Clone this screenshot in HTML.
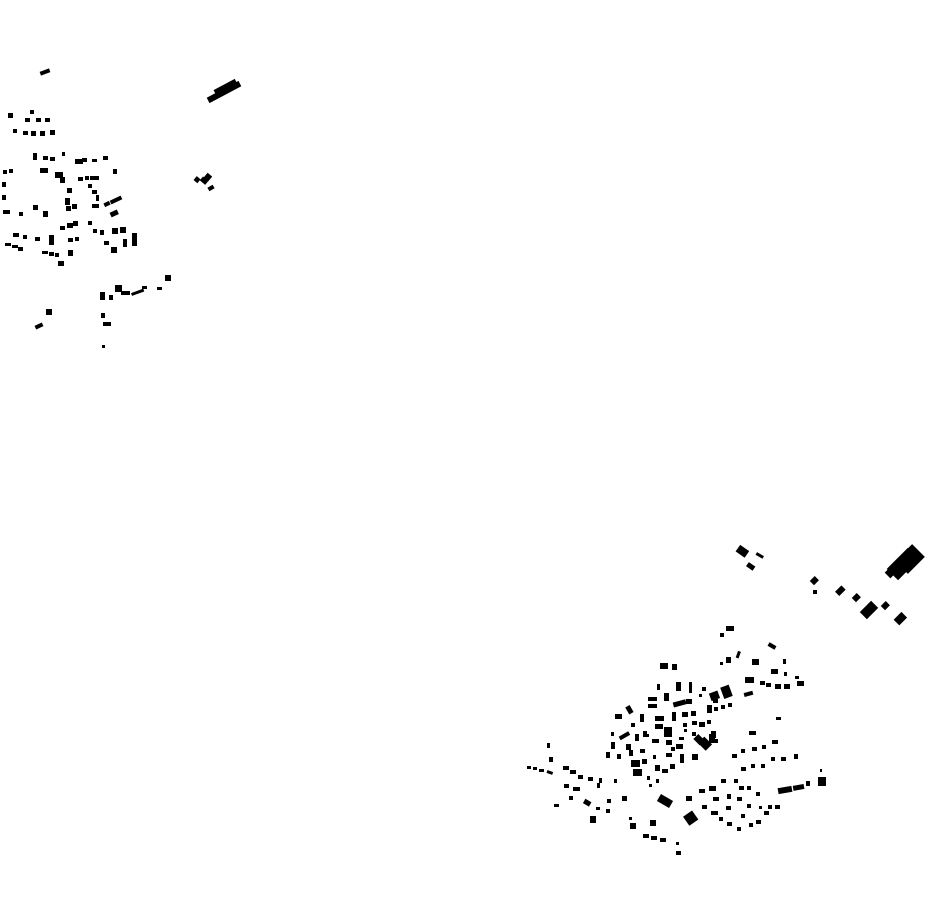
<!DOCTYPE html>
<html><head><meta charset="utf-8"><style>html,body{margin:0;padding:0;background:#fff}svg{display:block}</style></head>
<body>
<svg width="930" height="924" viewBox="0 0 930 924" xmlns="http://www.w3.org/2000/svg">
<rect width="930" height="924" fill="#fff"/>
<g fill="#000">
<!-- top-left cluster -->
<rect x="40" y="70" width="10" height="4" transform="rotate(-20 45 72)"/>
<rect x="206" y="89" width="36" height="6" transform="rotate(-28 224 92)"/>
<rect x="214" y="84" width="24" height="8" transform="rotate(-28 226 88)"/>
<rect x="8" y="113" width="5" height="5"/><rect x="30" y="110" width="4" height="4"/>
<rect x="25" y="118" width="5" height="4"/><rect x="36" y="118" width="5" height="4"/><rect x="45" y="118" width="5" height="4"/>
<rect x="13" y="129" width="4" height="4"/><rect x="23" y="131" width="5" height="4"/><rect x="31" y="131" width="5" height="5"/><rect x="40" y="131" width="5" height="5"/><rect x="50" y="130" width="5" height="5"/>
<rect x="33" y="153" width="4" height="7"/><rect x="43" y="156" width="5" height="4"/><rect x="50" y="157" width="5" height="4"/><rect x="62" y="152" width="3" height="4"/>
<rect x="75" y="159" width="8" height="5"/><rect x="82" y="158" width="5" height="4"/><rect x="92" y="159" width="5" height="3"/><rect x="103" y="156" width="5" height="4"/>
<rect x="3" y="170" width="4" height="4"/><rect x="9" y="169" width="4" height="4"/>
<rect x="40" y="168" width="8" height="5"/><rect x="55" y="172" width="8" height="6"/><rect x="60" y="177" width="5" height="6"/>
<rect x="78" y="177" width="5" height="4"/><rect x="85" y="176" width="4" height="4"/><rect x="90" y="176" width="9" height="4"/><rect x="113" y="169" width="4" height="5"/>
<rect x="2" y="182" width="4" height="5"/><rect x="2" y="195" width="4" height="5"/>
<rect x="67" y="188" width="5" height="5"/><rect x="65" y="198" width="5" height="7"/>
<rect x="88" y="184" width="4" height="4"/><rect x="92" y="190" width="5" height="4"/><rect x="96" y="195" width="3" height="6"/>
<rect x="110" y="198" width="12" height="4" transform="rotate(-25 116 200)"/><rect x="104" y="202" width="6" height="4" transform="rotate(-25 107 204)"/>
<rect x="33" y="205" width="5" height="5"/><rect x="43" y="211" width="5" height="6"/><rect x="3" y="210" width="7" height="4"/><rect x="19" y="212" width="4" height="4"/>
<rect x="66" y="206" width="5" height="5"/><rect x="72" y="204" width="5" height="5"/>
<rect x="92" y="204" width="7" height="4"/><rect x="110" y="211" width="8" height="5" transform="rotate(-25 114 213)"/>
<rect x="88" y="221" width="4" height="4"/>
<rect x="60" y="226" width="5" height="4"/><rect x="67" y="223" width="6" height="5"/><rect x="73" y="221" width="5" height="5"/>
<rect x="93" y="229" width="4" height="4"/><rect x="100" y="230" width="4" height="5"/><rect x="112" y="228" width="6" height="6"/><rect x="120" y="227" width="6" height="6"/>
<rect x="132" y="233" width="5" height="13"/><rect x="123" y="239" width="4" height="8"/>
<rect x="13" y="233" width="6" height="4"/><rect x="23" y="235" width="4" height="4"/><rect x="35" y="237" width="5" height="4"/><rect x="49" y="235" width="5" height="10"/>
<rect x="68" y="238" width="5" height="4"/><rect x="75" y="237" width="4" height="4"/>
<rect x="5" y="243" width="6" height="3"/><rect x="12" y="245" width="6" height="3"/><rect x="18" y="247" width="5" height="4"/>
<rect x="42" y="251" width="6" height="3"/><rect x="49" y="252" width="5" height="4"/><rect x="55" y="253" width="4" height="4"/>
<rect x="68" y="250" width="5" height="6"/><rect x="58" y="261" width="6" height="5"/>
<rect x="104" y="241" width="5" height="4"/><rect x="111" y="247" width="6" height="6"/>
<rect x="100" y="292" width="5" height="8"/><rect x="109" y="295" width="4" height="5"/>
<rect x="115" y="285" width="7" height="7"/><rect x="121" y="291" width="9" height="4"/><rect x="131" y="291" width="13" height="3" transform="rotate(-20 137 292)"/>
<rect x="142" y="286" width="5" height="3"/><rect x="157" y="287" width="5" height="3"/><rect x="165" y="275" width="6" height="6"/>
<rect x="46" y="309" width="6" height="6"/><rect x="35" y="324" width="8" height="4" transform="rotate(-25 39 326)"/>
<rect x="101" y="313" width="4" height="5"/><rect x="103" y="322" width="8" height="4"/><rect x="102" y="345" width="3" height="3"/>
<rect x="195" y="177" width="5" height="5" transform="rotate(40 197 179)"/><rect x="201" y="178" width="7" height="5" transform="rotate(40 204 180)"/><rect x="205" y="174" width="6" height="6" transform="rotate(40 208 177)"/><rect x="208" y="186" width="6" height="4" transform="rotate(-30 211 188)"/>
<!-- bottom-right cluster -->
<rect x="737" y="547" width="11" height="8" transform="rotate(35 742 551)"/><rect x="756" y="554" width="8" height="3" transform="rotate(30 760 555)"/><rect x="747" y="564" width="8" height="5" transform="rotate(35 751 566)"/>
<rect x="888" y="556" width="30" height="16" transform="rotate(-45 903 564)"/><rect x="898" y="550" width="24" height="18" transform="rotate(-45 910 559)"/><rect x="884" y="563" width="24" height="8" transform="rotate(-45 896 567)"/>
<rect x="811" y="578" width="7" height="6" transform="rotate(-45 814 581)"/><rect x="813" y="590" width="4" height="4"/>
<rect x="836" y="588" width="9" height="6" transform="rotate(-45 840 591)"/><rect x="853" y="595" width="7" height="6" transform="rotate(-45 856 598)"/>
<rect x="861" y="605" width="16" height="10" transform="rotate(-45 869 610)"/><rect x="882" y="603" width="7" height="6" transform="rotate(-45 885 606)"/>
<rect x="895" y="615" width="11" height="8" transform="rotate(-45 900 619)"/>
<rect x="726" y="626" width="8" height="5"/><rect x="720" y="633" width="4" height="4"/>
<rect x="737" y="651" width="3" height="7" transform="rotate(20 738 654)"/><rect x="726" y="657" width="5" height="6"/><rect x="720" y="662" width="3" height="3"/>
<rect x="752" y="659" width="7" height="6"/><rect x="768" y="644" width="8" height="4" transform="rotate(30 772 646)"/><rect x="783" y="659" width="3" height="5"/>
<rect x="771" y="669" width="7" height="5"/><rect x="784" y="672" width="3" height="4"/><rect x="795" y="676" width="4" height="3"/><rect x="797" y="681" width="7" height="5"/>
<rect x="775" y="684" width="6" height="5"/><rect x="784" y="684" width="6" height="5"/><rect x="766" y="683" width="5" height="4"/>
<rect x="745" y="677" width="9" height="6"/><rect x="760" y="681" width="5" height="4"/><rect x="744" y="692" width="9" height="4" transform="rotate(-15 748 694)"/>
<rect x="660" y="663" width="8" height="6"/><rect x="672" y="664" width="5" height="6"/>
<rect x="657" y="684" width="3" height="6"/><rect x="676" y="682" width="5" height="9"/><rect x="689" y="682" width="3" height="11"/>
<rect x="702" y="687" width="4" height="4"/><rect x="699" y="694" width="3" height="3"/>
<rect x="710" y="692" width="9" height="8" transform="rotate(-20 714 696)"/><rect x="722" y="686" width="9" height="12" transform="rotate(-20 726 692)"/><rect x="713" y="699" width="5" height="4"/>
<rect x="648" y="697" width="9" height="4"/><rect x="648" y="704" width="9" height="4"/><rect x="664" y="693" width="5" height="8"/>
<rect x="673" y="701" width="13" height="5" transform="rotate(-15 679 703)"/><rect x="686" y="699" width="6" height="5"/>
<rect x="707" y="705" width="5" height="8"/><rect x="714" y="707" width="4" height="4"/><rect x="721" y="705" width="4" height="4"/><rect x="728" y="703" width="4" height="4"/>
<rect x="615" y="714" width="7" height="5"/><rect x="627" y="706" width="5" height="8" transform="rotate(-30 629 710)"/><rect x="640" y="714" width="4" height="8"/>
<rect x="655" y="716" width="9" height="5"/><rect x="672" y="712" width="4" height="9"/><rect x="682" y="712" width="6" height="5"/><rect x="691" y="711" width="5" height="5"/>
<rect x="619" y="734" width="11" height="4" transform="rotate(-30 624 736)"/><rect x="631" y="723" width="4" height="4"/><rect x="611" y="732" width="3" height="4"/>
<rect x="643" y="731" width="4" height="6"/><rect x="655" y="724" width="8" height="5"/><rect x="664" y="727" width="8" height="10"/><rect x="683" y="723" width="4" height="4"/><rect x="692" y="721" width="5" height="4"/><rect x="699" y="722" width="6" height="5"/><rect x="707" y="720" width="4" height="4"/>
<rect x="684" y="729" width="3" height="3"/><rect x="692" y="732" width="4" height="4"/><rect x="711" y="731" width="5" height="7"/>
<rect x="611" y="742" width="4" height="7"/><rect x="626" y="744" width="5" height="6"/><rect x="635" y="734" width="4" height="7"/><rect x="646" y="734" width="3" height="3"/><rect x="652" y="739" width="7" height="4"/>
<rect x="666" y="740" width="6" height="5"/><rect x="676" y="744" width="7" height="5"/><rect x="679" y="737" width="5" height="3"/>
<rect x="695" y="736" width="9" height="7" transform="rotate(45 699 739)"/><rect x="700" y="739" width="11" height="9" transform="rotate(45 705 743)"/><rect x="709" y="734" width="6" height="9"/><rect x="714" y="739" width="4" height="4"/>
<rect x="606" y="752" width="4" height="6"/><rect x="617" y="754" width="4" height="5"/><rect x="629" y="750" width="4" height="6"/>
<rect x="640" y="749" width="5" height="4"/><rect x="653" y="755" width="3" height="4"/><rect x="666" y="753" width="6" height="4"/><rect x="671" y="747" width="4" height="4"/><rect x="680" y="754" width="4" height="9"/><rect x="692" y="754" width="6" height="6"/>
<rect x="631" y="760" width="9" height="7"/><rect x="642" y="759" width="5" height="5"/><rect x="655" y="765" width="5" height="6"/><rect x="662" y="769" width="6" height="4"/><rect x="670" y="764" width="5" height="5"/>
<rect x="633" y="769" width="9" height="7"/><rect x="647" y="776" width="3" height="4"/><rect x="656" y="779" width="3" height="4"/><rect x="649" y="784" width="3" height="3"/>
<rect x="732" y="754" width="5" height="4"/><rect x="741" y="749" width="4" height="4"/><rect x="752" y="747" width="5" height="4"/><rect x="762" y="745" width="4" height="4"/><rect x="772" y="740" width="6" height="4"/>
<rect x="749" y="731" width="7" height="4"/><rect x="776" y="717" width="5" height="3"/>
<rect x="741" y="767" width="5" height="4"/><rect x="751" y="764" width="4" height="4"/><rect x="761" y="764" width="4" height="4"/><rect x="771" y="757" width="4" height="4"/><rect x="781" y="757" width="5" height="4"/><rect x="794" y="754" width="4" height="5"/>
<rect x="547" y="743" width="3" height="5"/><rect x="549" y="757" width="4" height="5"/>
<rect x="527" y="766" width="4" height="3"/><rect x="533" y="767" width="4" height="3"/><rect x="539" y="769" width="5" height="3"/><rect x="547" y="771" width="6" height="3" transform="rotate(20 550 772)"/>
<rect x="563" y="766" width="6" height="4"/><rect x="570" y="770" width="6" height="4"/><rect x="578" y="775" width="5" height="4"/><rect x="588" y="777" width="5" height="4"/>
<rect x="599" y="778" width="3" height="5"/><rect x="597" y="783" width="3" height="5"/><rect x="614" y="779" width="3" height="4"/>
<rect x="564" y="784" width="5" height="4"/><rect x="573" y="787" width="7" height="4"/><rect x="569" y="796" width="4" height="4"/><rect x="554" y="804" width="5" height="3"/>
<rect x="584" y="800" width="7" height="5" transform="rotate(30 587 802)"/><rect x="590" y="816" width="6" height="7"/><rect x="596" y="807" width="4" height="3"/><rect x="607" y="799" width="4" height="4"/><rect x="606" y="809" width="4" height="4"/>
<rect x="622" y="796" width="5" height="5"/>
<rect x="630" y="823" width="6" height="6"/><rect x="629" y="817" width="3" height="3"/><rect x="650" y="820" width="6" height="6"/>
<rect x="643" y="834" width="6" height="4"/><rect x="651" y="836" width="6" height="4"/><rect x="660" y="838" width="6" height="4"/>
<rect x="676" y="842" width="3" height="3"/><rect x="676" y="851" width="5" height="4"/>
<rect x="658" y="797" width="14" height="8" transform="rotate(30 665 801)"/>
<rect x="685" y="813" width="11" height="11" transform="rotate(-35 690 818)"/>
<rect x="686" y="796" width="6" height="5"/><rect x="699" y="789" width="6" height="4"/><rect x="709" y="786" width="7" height="5"/><rect x="721" y="779" width="5" height="4"/><rect x="734" y="779" width="4" height="4"/><rect x="739" y="786" width="5" height="4"/><rect x="747" y="786" width="4" height="4"/><rect x="756" y="792" width="4" height="4"/>
<rect x="713" y="797" width="6" height="4"/><rect x="727" y="794" width="4" height="5"/><rect x="737" y="797" width="5" height="4"/><rect x="747" y="804" width="4" height="4"/><rect x="759" y="806" width="3" height="3"/><rect x="775" y="805" width="5" height="4"/>
<rect x="702" y="805" width="5" height="4"/><rect x="711" y="811" width="7" height="4"/><rect x="726" y="806" width="5" height="4"/><rect x="719" y="817" width="4" height="4"/><rect x="727" y="822" width="5" height="4"/><rect x="737" y="827" width="4" height="4"/><rect x="741" y="814" width="4" height="4"/>
<rect x="749" y="823" width="4" height="4"/><rect x="756" y="820" width="5" height="4"/><rect x="764" y="811" width="5" height="4"/><rect x="768" y="805" width="4" height="4"/>
<rect x="778" y="787" width="14" height="6" transform="rotate(-10 785 790)"/><rect x="793" y="785" width="11" height="5" transform="rotate(-10 798 787)"/><rect x="806" y="781" width="4" height="5"/><rect x="818" y="777" width="8" height="9"/><rect x="820" y="769" width="2" height="3"/>
</g>
</svg>
</body></html>
